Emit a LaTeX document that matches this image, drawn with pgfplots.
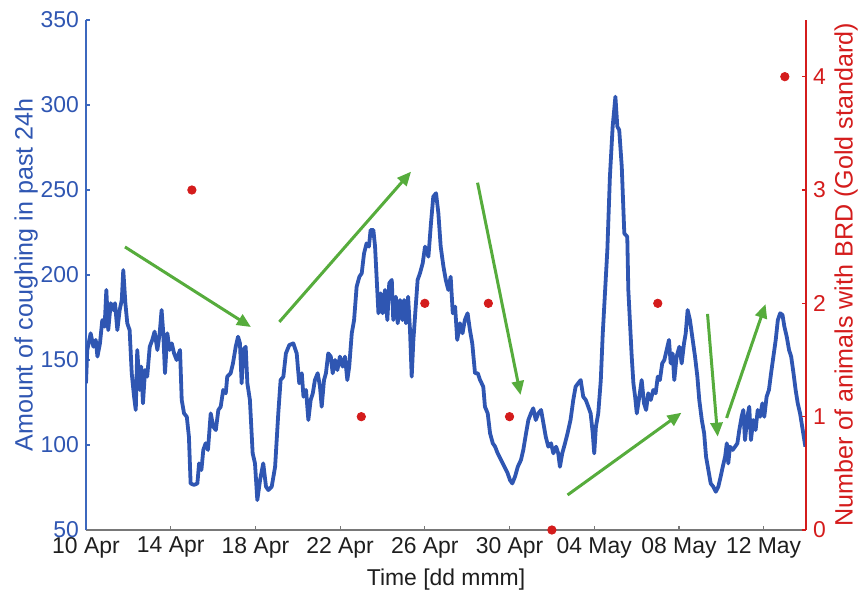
\documentclass[border=0pt]{standalone}
\usepackage{pgfplots}
\pgfplotsset{compat=1.18}
\usetikzlibrary{arrows.meta}
\usepackage{fontspec}
\setmainfont{Liberation Sans}
\definecolor{cblue}{RGB}{47,86,178}
\definecolor{cbaxis}{RGB}{60,104,190}
\definecolor{cred}{RGB}{212,28,28}
\definecolor{cgreen}{RGB}{86,172,60}
\definecolor{cgray}{RGB}{120,120,120}
\definecolor{ctext}{RGB}{30,30,30}
\pgfplotstableread{
d v
0.00 136.3
0.06 155.9
0.22 165.7
0.35 157.8
0.46 161.8
0.54 152
0.66 159.8
0.77 173.5
0.88 169.6
0.96 191.2
1.05 167.6
1.17 183.4
1.29 179.4
1.37 183.4
1.48 167.6
1.59 179.4
1.69 185.3
1.76 202.9
1.86 183.4
1.95 171.6
2.06 167.6
2.16 142.2
2.27 128.4
2.35 120.6
2.42 155.9
2.54 132.4
2.61 146.1
2.69 124.5
2.79 144.1
2.89 140.2
3.01 157.8
3.13 161.8
3.24 166.7
3.37 155.9
3.48 165.7
3.57 179.4
3.65 165.7
3.73 142.2
3.84 165.7
3.95 155.9
4.05 159.8
4.16 153.9
4.28 150
4.44 155.9
4.52 126.5
4.63 118.6
4.76 116.6
4.86 104.9
4.94 77.4
5.10 76.5
5.26 77.4
5.34 89.2
5.45 85.3
5.54 97.1
5.65 101
5.76 97.1
5.89 118.6
6.01 110.8
6.13 108.8
6.25 120.6
6.36 122.5
6.48 132.4
6.60 130.4
6.67 140.2
6.83 142.2
6.94 148
7.07 157.8
7.18 163.7
7.27 159.8
7.35 136.3
7.43 155.9
7.54 157.8
7.62 136.3
7.74 126.5
7.87 95.1
7.98 89.2
8.09 67.6
8.22 79.4
8.37 89.2
8.50 75.5
8.61 73.5
8.77 75.5
8.93 87.2
9.08 118.6
9.19 138.2
9.32 140.2
9.44 153.9
9.60 158.8
9.79 159.8
9.95 153.9
10.07 136.3
10.19 142.2
10.27 128.4
10.39 132.4
10.50 114.7
10.61 126.5
10.71 130.4
10.81 138.2
10.94 142.2
11.05 134.3
11.13 122.5
11.24 138.2
11.33 142.2
11.44 153.9
11.56 152
11.65 142.2
11.76 150
11.87 144.1
11.99 152
12.12 146.1
12.23 152
12.34 138.2
12.43 146.1
12.55 165.7
12.66 173.5
12.78 193.1
12.91 199
13.02 201
13.13 212.7
13.25 218.6
13.36 216.7
13.44 226.5
13.57 226.5
13.65 216.7
13.73 197.1
13.81 177.5
13.92 189.2
14.01 177.5
14.12 191.2
14.23 173.5
14.32 195.1
14.44 197.1
14.51 173.5
14.63 187.2
14.72 171.6
14.83 185.3
14.94 173.5
15.02 185.3
15.11 171.6
15.21 187.2
15.30 167.6
15.38 140.2
15.46 161.8
15.57 181.4
15.66 197.1
15.77 201
15.90 206.9
16.01 216.7
16.17 210.8
16.29 230.4
16.40 246.1
16.53 248.1
16.64 236.3
16.75 216.7
16.88 204.9
16.99 197.1
17.11 191.2
17.22 199
17.32 177.5
17.43 181.4
17.53 161.8
17.66 171.6
17.78 165.7
17.89 173.5
18.02 177.5
18.13 167.6
18.24 159.8
18.37 142.2
18.50 142.2
18.61 138.2
18.76 134.3
18.84 122.5
18.97 118.6
19.08 106.9
19.21 101
19.32 99
19.44 95.1
19.60 91.2
19.76 87.2
19.91 83.4
20.02 79.4
20.13 77.4
20.26 81.4
20.39 87.2
20.54 91.2
20.65 97.1
20.78 106.9
20.89 114.7
21.01 118.6
21.12 121.6
21.24 114.7
21.36 118.6
21.49 120.6
21.60 112.8
21.71 104.9
21.83 99
21.96 101
22.07 95.1
22.20 99
22.30 95.1
22.38 87.2
22.49 95.1
22.62 101
22.74 106.9
22.88 114.7
23.01 126.5
23.12 134.3
23.24 136.3
23.36 138.2
23.48 128.4
23.60 126.5
23.72 122.5
23.83 118.6
23.93 106.9
24.00 95.1
24.08 110.8
24.19 118.6
24.31 138.2
24.40 165
24.51 190
24.62 215
24.74 257.8
24.87 287.3
25.00 304.9
25.09 287.3
25.18 285.3
25.30 263.7
25.42 224.5
25.56 222.5
25.61 191.2
25.77 152
25.85 136.3
25.93 128.4
26.01 118.6
26.13 128.4
26.24 138.2
26.35 124.5
26.45 120.6
26.55 130.4
26.67 126.5
26.79 132.4
26.90 130.4
27.00 140.2
27.10 138.2
27.21 148
27.31 150
27.42 155.9
27.53 161.8
27.61 148
27.70 153.9
27.78 138.2
27.89 152
28.02 157.8
28.13 148
28.24 159.8
28.32 165.7
28.41 179.4
28.52 173.5
28.65 161.8
28.76 152
28.87 140.2
28.96 126.5
29.08 114.7
29.19 106.9
29.28 93.1
29.39 85.3
29.50 77.4
29.62 75.5
29.74 72.5
29.86 75.5
29.97 81.4
30.07 87.2
30.18 93.1
30.26 101
30.33 89.2
30.41 99
30.54 97.1
30.65 99
30.76 101
30.85 108.8
30.96 116.6
31.04 120.6
31.12 102.9
31.23 116.6
31.32 122.5
31.40 102.9
31.51 114.7
31.62 108.8
31.72 120.6
31.83 116.6
31.94 124.5
32.03 116.6
32.14 128.4
32.25 132.4
32.35 142.2
32.46 152
32.57 161.8
32.67 173.5
32.78 177.5
32.89 176.5
32.98 169.6
33.09 163.7
33.20 155.9
33.30 152
33.41 142.2
33.51 132.4
33.61 124.5
33.72 118.6
33.82 110.8
33.92 102.9
33.97 99
}\coughing
\pgfplotstableread{
d n
5 3
13 1
16 2
19 2
20 1
22 0
27 2
33 4
}\brd
\begin{document}
\begin{tikzpicture}
\path[use as bounding box] (-43bp,-33bp) rectangle (386bp,265bp);
\begin{axis}[
  at={(0,0)}, anchor=south west,
  scale only axis, width=360bp, height=255bp,
  xmin=0, xmax=34, ymin=50, ymax=350,
  axis y line*=left, axis x line*=bottom,
  xtick={0,4,...,32},
  xticklabels={10 Apr,14 Apr,18 Apr,22 Apr,26 Apr,30 Apr,04 May,08 May,12 May},
  ytick={50,100,...,350},
  tick align=inside, major tick length=2.2bp,
  x axis line style={cgray, line width=0.6bp},
  y axis line style={cbaxis, line width=0.6bp},
  xtick style={cgray, line width=0.6bp},
  ytick style={cbaxis, line width=0.6bp},
  /pgf/number format/assume math mode=true,
  xticklabel style={font=\fontsize{11.5}{13}\selectfont, text=ctext},
  yticklabel style={font=\fontsize{11.5}{13}\selectfont, text=cblue},
  xlabel={Time [dd mmm]},
  xlabel style={font=\fontsize{11.5}{13}\selectfont, text=ctext, at={(axis description cs:0.5,-0.098)}, anchor=center},
  ylabel={Amount of coughing in past 24h},
  ylabel style={font=\fontsize{12.6}{14}\selectfont, text=cblue, at={(axis description cs:-0.0833,0.5)}, anchor=center},
]
\addplot[cblue, line width=1.9bp, line join=round] table[x=d, y=v] {\coughing};
\addplot[cgreen, line width=1.5bp, -{Triangle[length=7bp,width=6bp]}] coordinates {(1.84,216.5) (7.79,169.4)};
\addplot[cgreen, line width=1.5bp, -{Triangle[length=7bp,width=6bp]}] coordinates {(9.13,172.4) (15.35,260.8)};
\addplot[cgreen, line width=1.5bp, -{Triangle[length=7bp,width=6bp]}] coordinates {(18.49,254.3) (20.52,129.4)};
\addplot[cgreen, line width=1.5bp, -{Triangle[length=7bp,width=6bp]}] coordinates {(22.74,70.6) (28.12,119.0)};
\addplot[cgreen, line width=1.5bp, -{Triangle[length=7bp,width=6bp]}] coordinates {(29.35,177.1) (29.83,104.9)};
\addplot[cgreen, line width=1.5bp, -{Triangle[length=7bp,width=6bp]}] coordinates {(30.25,115.9) (32.09,182.9)};
\end{axis}
\begin{axis}[
  at={(0,0)}, anchor=south west,
  scale only axis, width=360bp, height=255bp,
  xmin=0, xmax=34, ymin=0, ymax=4.5,
  axis y line*=right, axis x line=none,
  ytick={0,1,2,3,4},
  tick align=inside, major tick length=2.2bp,
  y axis line style={cred, line width=0.6bp},
  ytick style={cred, line width=0.6bp},
  /pgf/number format/assume math mode=true,
  yticklabel style={font=\fontsize{11.5}{13}\selectfont, text=cred},
  ylabel={Number of animals with BRD (Gold standard)},
  ylabel style={font=\fontsize{12.6}{14}\selectfont, text=cred, at={(axis description cs:1.0556,0.5)}, anchor=center},
  clip=false,
]
\addplot[only marks, mark=*, mark size=2.1bp, color=cred] table[x=d, y=n] {\brd};
\end{axis}
\end{tikzpicture}
\end{document}
